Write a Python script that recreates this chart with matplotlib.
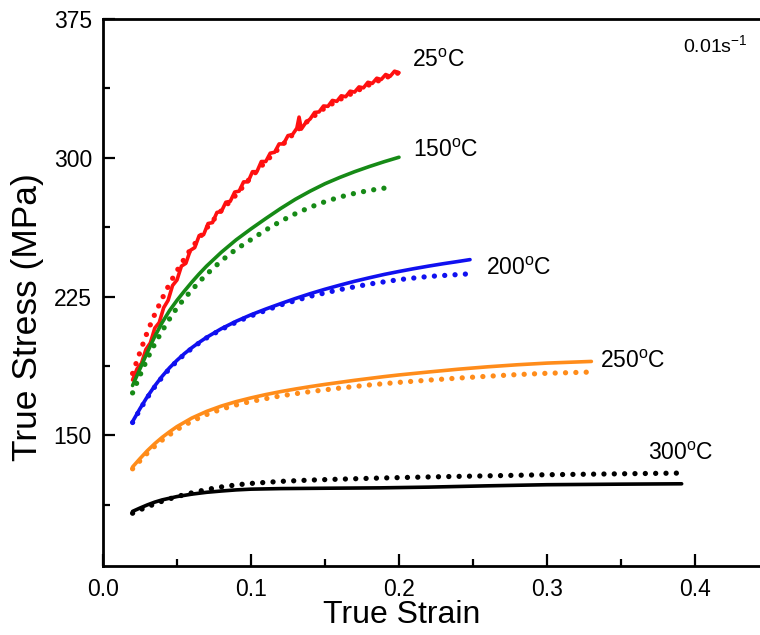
import matplotlib
matplotlib.use("Agg")
import matplotlib.pyplot as plt
from matplotlib.ticker import MultipleLocator

plt.rcParams['font.family'] = ['Liberation Sans', 'DejaVu Sans']
plt.rcParams['mathtext.fontset'] = 'custom'
plt.rcParams['mathtext.rm'] = 'Liberation Sans'

# 25 C experimental (solid, noisy)
x25_exp = [0.020, 0.023, 0.026, 0.029, 0.032, 0.035, 0.038, 0.041, 0.044, 0.047, 0.050, 0.053,
           0.056, 0.059, 0.062, 0.065, 0.068, 0.071, 0.074, 0.077, 0.080, 0.083, 0.086, 0.089,
           0.092, 0.095, 0.098, 0.101, 0.104, 0.107, 0.110, 0.113, 0.116, 0.119, 0.122, 0.125,
           0.128, 0.131, 0.1325, 0.134, 0.137, 0.140, 0.143, 0.146, 0.149, 0.152, 0.155, 0.158,
           0.161, 0.164, 0.167, 0.170, 0.173, 0.176, 0.179, 0.182, 0.185, 0.188, 0.191, 0.194,
           0.197, 0.200]
y25_exp = [180, 186, 189, 196.5, 200, 208, 211, 219, 223, 231, 234, 241.5,
           243, 250, 251.5, 258, 258.5, 264.5, 265, 270.5, 271, 276, 276.5, 281.5,
           282, 287, 287, 292.5, 292.5, 298, 298, 302.5, 303, 307.5, 307.5, 312,
           312.5, 316, 322, 315.5, 319, 321, 324.5, 324.8, 328, 327.8, 331, 330.5,
           333.5, 333, 336, 335.5, 338.3, 337.8, 340.8, 340.2, 343, 342.3, 345, 344,
           346.8, 346]
# 25 C predicted (dotted)
x25_pre = [0.02, 0.025, 0.03, 0.035, 0.04, 0.045, 0.05, 0.055, 0.06, 0.065, 0.07, 0.08, 0.09,
           0.10, 0.11, 0.12, 0.13, 0.14, 0.15, 0.16, 0.17, 0.18, 0.19, 0.20]
y25_pre = [183.5, 195, 206, 215.5, 224, 232, 239, 245.5, 251.5, 256.5, 262, 271.5, 280,
           289.5, 298, 306, 314, 321, 327, 331.5, 335.5, 339.5, 343, 346]

# 150 C
x150_exp = [0.02, 0.025, 0.03, 0.035, 0.04, 0.045, 0.05, 0.055, 0.06, 0.065, 0.07, 0.08, 0.09,
            0.10, 0.11, 0.12, 0.13, 0.14, 0.15, 0.16, 0.17, 0.18, 0.19, 0.20]
y150_exp = [177, 186, 195, 203.5, 211, 217.5, 223, 228, 232.8, 237.3, 241.5, 249, 255.7,
            261.6, 267.2, 272.6, 277.6, 282, 286, 289.4, 292.5, 295.3, 297.9, 300.3]
x150_pre = [0.02, 0.025, 0.03, 0.035, 0.04, 0.045, 0.05, 0.055, 0.06, 0.065, 0.07, 0.075,
            0.08, 0.085, 0.09, 0.10, 0.11, 0.12, 0.13, 0.14, 0.15, 0.16, 0.17, 0.18, 0.195]
y150_pre = [173, 182.5, 191.5, 199.5, 206.5, 213, 219, 224, 228.5, 233, 237, 240.8,
            244.3, 247.6, 250.6, 255.8, 261, 265.7, 269.8, 273.3, 276.3, 278.8, 280.8, 282.4, 284.2]

# 200 C
x200_exp = [0.02, 0.025, 0.03, 0.035, 0.04, 0.045, 0.05, 0.055, 0.06, 0.065, 0.07, 0.08, 0.09,
            0.10, 0.11, 0.12, 0.13, 0.14, 0.15, 0.16, 0.17, 0.18, 0.19, 0.20, 0.21, 0.22,
            0.23, 0.24, 0.248]
y200_exp = [157.5, 164.5, 171, 176.8, 182, 186.6, 190.6, 194.2, 197.4, 200.3, 203, 207.7, 211.7,
            215.2, 218.3, 221.2, 224, 226.6, 229, 231.2, 233.3, 235.2, 237, 238.6, 240.1, 241.5,
            242.8, 244, 245]
x200_pre = [0.02, 0.025, 0.03, 0.035, 0.04, 0.045, 0.05, 0.055, 0.06, 0.065, 0.07, 0.08, 0.09,
            0.10, 0.12, 0.14, 0.16, 0.18, 0.20, 0.22, 0.245]
y200_pre = [157, 164, 170.5, 176.3, 181.5, 186.1, 190.2, 193.8, 197, 200, 202.7, 207.3, 211.2,
            214.6, 220.5, 225.2, 228.8, 231.8, 234.2, 235.9, 237.2]

# 250 C
x250_exp = [0.02, 0.025, 0.03, 0.035, 0.04, 0.045, 0.05, 0.06, 0.07, 0.08, 0.09, 0.10, 0.11,
            0.12, 0.13, 0.14, 0.15, 0.16, 0.17, 0.18, 0.19, 0.20, 0.22, 0.24, 0.26, 0.28,
            0.30, 0.33]
y250_exp = [133, 137.5, 141.8, 145.6, 149, 152, 154.8, 159.4, 163, 165.9, 168.3, 170.3, 172.1,
            173.7, 175.1, 176.4, 177.6, 178.7, 179.8, 180.8, 181.8, 182.7, 184.3, 185.8, 187.1, 188.2,
            189.1, 190]
x250_pre = [0.02, 0.025, 0.03, 0.035, 0.04, 0.045, 0.05, 0.06, 0.07, 0.08, 0.09, 0.10, 0.12,
            0.14, 0.16, 0.18, 0.20, 0.22, 0.24, 0.26, 0.28, 0.30, 0.327]
y250_pre = [132, 136.3, 140.5, 144.2, 147.5, 150.4, 153.2, 157.7, 161.3, 164.2, 166.5, 168.4, 171.4,
            173.7, 175.6, 177.3, 178.7, 179.9, 181, 182, 182.9, 183.6, 184.2]

# 300 C
x300_exp = [0.02, 0.025, 0.03, 0.035, 0.04, 0.05, 0.06, 0.07, 0.08, 0.09, 0.10, 0.12, 0.15,
            0.187, 0.22, 0.26, 0.30, 0.35, 0.391]
y300_exp = [109, 110.8, 112.5, 114, 115.2, 117, 118.3, 119.3, 120, 120.6, 121, 121.3, 121.5,
            121.7, 122.1, 122.8, 123.4, 123.7, 123.9]
x300_pre = [0.02, 0.025, 0.03, 0.035, 0.04, 0.05, 0.06, 0.07, 0.08, 0.09, 0.10, 0.12, 0.14,
            0.16, 0.187, 0.22, 0.26, 0.30, 0.35, 0.391]
y300_pre = [108, 109.8, 111.5, 113, 114.5, 117, 119, 120.8, 122.2, 123.3, 124.1, 125.2, 125.9,
            126.4, 127, 127.6, 128.2, 128.8, 129.3, 129.7]

series = [
    (x25_exp, y25_exp, x25_pre, y25_pre, '#ff1010'),
    (x150_exp, y150_exp, x150_pre, y150_pre, '#168a16'),
    (x200_exp, y200_exp, x200_pre, y200_pre, '#1010f0'),
    (x250_exp, y250_exp, x250_pre, y250_pre, '#ff8c1a'),
    (x300_exp, y300_exp, x300_pre, y300_pre, '#000000'),
]

labels = [r'25$^\mathregular{o}$C', r'150$^\mathregular{o}$C', r'200$^\mathregular{o}$C',
          r'250$^\mathregular{o}$C', r'300$^\mathregular{o}$C']
label_x = [0.2086, 0.2097, 0.2588, 0.336, 0.368]
label_y = [349.1, 300.6, 236.8, 186.4, 136.9]

fig = plt.figure(figsize=(7.6, 6.35), dpi=100)
ax = fig.add_axes([0.1355, 0.1087, 0.8763, 0.8614])

for xe, ye, xp, yp, c in series:
    ax.plot(xp, yp, color=c, lw=3.8, linestyle=(0, (0.01, 1.95)),
            dash_capstyle='round', solid_capstyle='round')
    ax.plot(xe, ye, color=c, lw=2.6, solid_capstyle='round', solid_joinstyle='round')

for t, lx, ly in zip(labels, label_x, label_y):
    ax.text(lx, ly, t, fontsize=16.5, va='baseline', ha='left')

ax.text(0.392, 356.8, r'0.01s$^\mathregular{-1}$', fontsize=14, va='baseline', ha='left')

ax.set_xlim(0.0, 0.45)
ax.set_ylim(79.5, 375)
ax.xaxis.set_major_locator(MultipleLocator(0.1))
ax.xaxis.set_minor_locator(MultipleLocator(0.05))
ax.yaxis.set_major_locator(MultipleLocator(75))
ax.yaxis.set_minor_locator(MultipleLocator(37.5))
ax.tick_params(which='both', direction='in', width=1.6, top=False, right=False)
ax.tick_params(which='major', length=8.5, labelsize=16.5)
ax.tick_params(axis='x', which='major', pad=9)
ax.tick_params(axis='y', which='major', pad=8)
ax.tick_params(which='minor', length=5)
for s in ax.spines.values():
    s.set_linewidth(2.0)

ax.set_xlabel('True Strain', fontsize=23, va='top')
ax.xaxis.set_label_coords(0.449, -0.062)
ax.set_ylabel('True Stress (MPa)', fontsize=25.5)
ax.yaxis.set_label_coords(-0.088, 0.455)

fig.savefig('out.png', dpi=100)
